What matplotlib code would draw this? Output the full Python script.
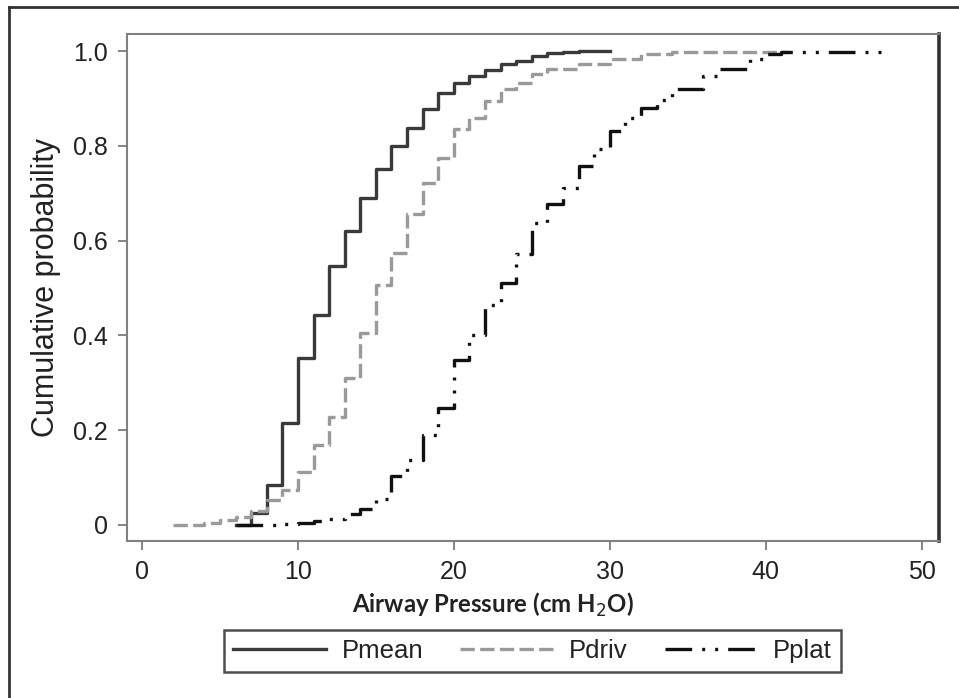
import numpy as np
import matplotlib.pyplot as plt
from matplotlib.lines import Line2D

# Step positions (cm H2O) and cumulative probabilities
pmean_x = [6, 7, 8, 9, 10, 11, 12, 13, 14, 15, 16, 17, 18, 19, 20, 21, 22, 23, 24, 25, 26, 27, 28, 30]
pmean_y = [0, 0.025, 0.085, 0.215, 0.352, 0.442, 0.547, 0.621, 0.69, 0.752, 0.80, 0.838, 0.878,
           0.912, 0.933, 0.947, 0.96, 0.973, 0.98, 0.99, 0.996, 0.998, 1.0, 1.0]

pdriv_x = [2, 4, 5, 6, 7, 8, 9, 10, 11, 12, 13, 14, 15, 16, 17, 18, 19, 20, 21, 22, 23, 24, 25,
           26, 28, 30, 32, 34, 41.5]
pdriv_y = [0, 0.005, 0.01, 0.017, 0.03, 0.053, 0.074, 0.112, 0.168, 0.227, 0.309, 0.404, 0.507,
           0.573, 0.657, 0.722, 0.775, 0.836, 0.859, 0.895, 0.92, 0.933, 0.951, 0.962, 0.973,
           0.983, 0.994, 0.998, 0.998]

pplat_x = [6, 9, 10, 11, 12, 13, 14, 15, 16, 17, 18, 19, 20, 21, 22, 23, 24, 25, 26, 27, 28, 29,
           30, 31, 32, 33, 34, 36, 37, 39, 40, 41, 48]
pplat_y = [0, 0.002, 0.005, 0.008, 0.013, 0.022, 0.033, 0.055, 0.103, 0.136, 0.19, 0.247, 0.348,
           0.40, 0.465, 0.51, 0.572, 0.638, 0.677, 0.712, 0.758, 0.794, 0.832, 0.859, 0.88,
           0.897, 0.92, 0.947, 0.962, 0.983, 0.994, 0.998, 0.998]

x_ticks = [0, 10, 20, 30, 40, 50]
y_ticks = [0, 0.2, 0.4, 0.6, 0.8, 1.0]
y_ticklabels = ['0', '0.2', '0.4', '0.6', '0.8', '1.0']

plt.rcParams['font.family'] = ['Liberation Sans', 'DejaVu Sans']

fig = plt.figure(figsize=(9.59, 6.98), dpi=100)
ax = fig.add_axes([0.1324, 0.2249, 0.8467, 0.7264])

ax.step(pmean_x, pmean_y, where='post', color='#3a3a3a', lw=2.4, label='Pmean')
ax.step(pdriv_x, pdriv_y, where='post', color='#9a9a9a', lw=2.4,
        linestyle=(0, (4.3, 1.6)), label='Pdriv')
ax.step(pplat_x, pplat_y, where='post', color='#111111', lw=2.4,
        linestyle=(0, (8.0, 3.0, 0.9, 3.0, 0.9, 3.0)), label='Pplat')

ax.set_xlim(-0.96, 51.1)
ax.set_ylim(-0.034, 1.036)
ax.set_xticks(x_ticks)
ax.set_yticks(y_ticks)
ax.set_yticklabels(y_ticklabels)
ax.tick_params(direction='out', length=6.5, width=1.2, color='#707070',
               labelsize=18, labelcolor='#222222', pad=7)

for s in ['top', 'left', 'bottom']:
    ax.spines[s].set_color('#808080')
    ax.spines[s].set_linewidth(1.5)
ax.spines['right'].set_color('#333333')
ax.spines['right'].set_linewidth(2.6)

ax.set_ylabel('Cumulative probability', fontsize=22, color='#222222', labelpad=9)
ax.set_xlabel('Airway Pressure (cm H$_2$O)', fontsize=17.3, fontweight='bold',
              family='Lato', color='#222222', va='center')
ax.xaxis.set_label_coords(0.4507, -0.126)

leg = fig.legend(loc='center', bbox_to_anchor=(0.5553, 0.068), ncol=3, fontsize=18.5,
                 handlelength=3.6, handletextpad=0.62, columnspacing=1.45,
                 borderpad=0.35, borderaxespad=0, fancybox=False, frameon=True)
leg.get_frame().set_edgecolor('#222222')
leg.get_frame().set_linewidth(1.8)
for t in leg.get_texts():
    t.set_color('#222222')

# outer frame of the figure panel (left and top edges visible)
fig.add_artist(Line2D([9 / 959, 9 / 959], [0, 1 - 7 / 698], transform=fig.transFigure,
                      color='#333333', lw=2))
fig.add_artist(Line2D([9 / 959, 1], [1 - 7 / 698, 1 - 7 / 698], transform=fig.transFigure,
                      color='#333333', lw=2))

fig.savefig('out.png', dpi=100)
